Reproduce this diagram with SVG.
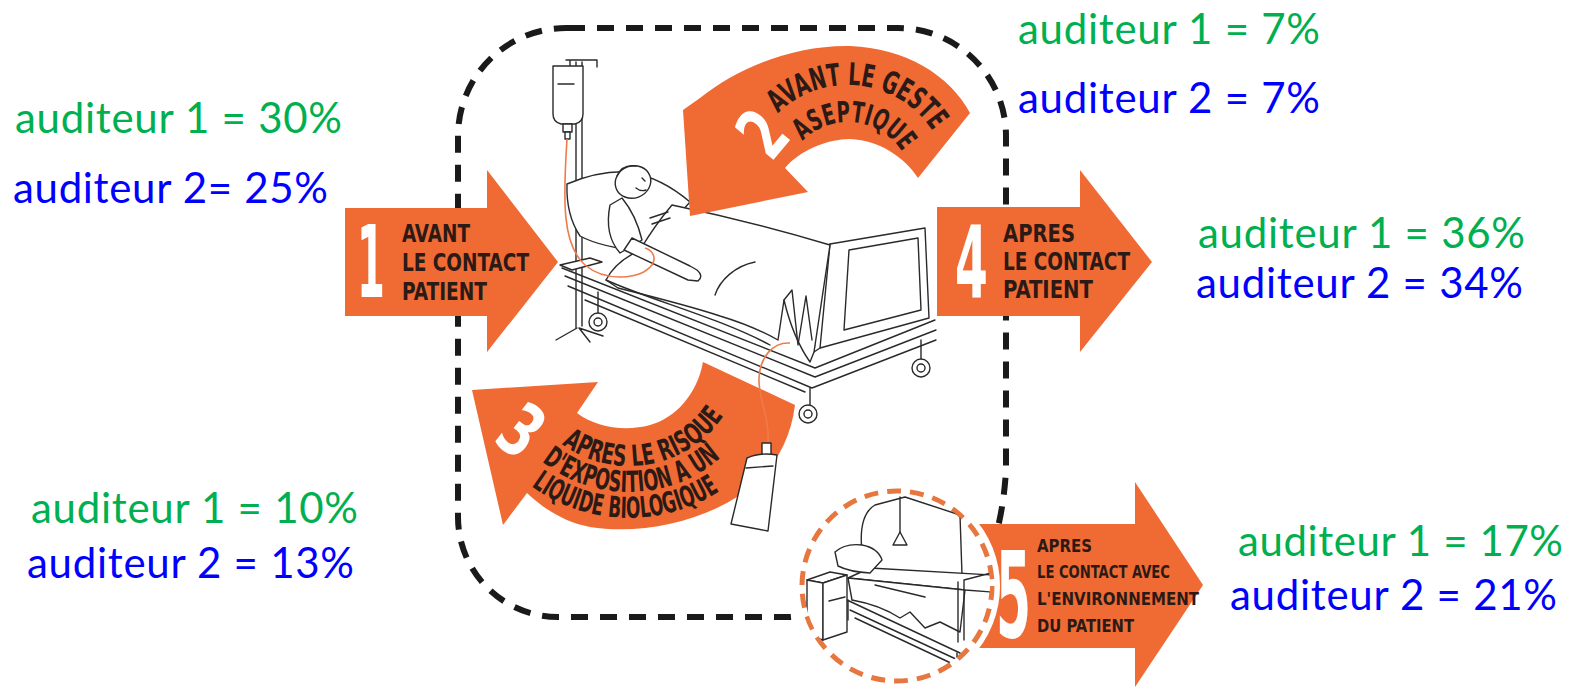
<svg xmlns="http://www.w3.org/2000/svg" width="1579" height="691" viewBox="0 0 1579 691">
<style>
.arr{fill:#F06A33}
.lbl{font-family:"DejaVu Sans Condensed","DejaVu Sans",sans-serif;font-weight:bold;fill:#2b1a15}
.num{font-family:"DejaVu Sans Condensed","DejaVu Sans",sans-serif;font-weight:bold;fill:#ffffff}
.pct{font-family:Lato,"Open Sans",sans-serif;font-size:42px}
.g{fill:#00B050}
.b{fill:#0000FF}
.ln{fill:none;stroke:#2a2a2a;stroke-width:1.4;stroke-linejoin:round;stroke-linecap:round}
.wf{fill:#ffffff;stroke:#2a2a2a;stroke-width:1.4;stroke-linejoin:round}
.tube{fill:none;stroke:#F07A4A;stroke-width:1.6}
</style>
<defs>
<path id="p2a" d="M764.3,129.5 A101,101 0 0 1 942.3,149.8"/>
<path id="p2b" d="M793.3,152.8 A64,64 0 0 1 908.6,165.4"/>
<path id="p3a" d="M530.3,409 A114,114 0 0 0 741.3,371.8"/>
<path id="p3b" d="M498.5,402.6 A140,140 0 0 0 761.5,397.1"/>
<path id="p3c" d="M471.6,404.7 A166,166 0 0 0 783.4,412.8"/>
<clipPath id="cc"><circle cx="897" cy="586" r="93"/></clipPath>
</defs>
<rect width="1579" height="691" fill="#ffffff"/>

<g id="zone-patient">
<path d="M568,28 H898 A108,108 0 0 1 1006,136 V470 Q1004,505 996,535 L985,600 L790,617 H558 A100,100 0 0 1 458,517 V136 A108,108 0 0 1 566,28 Z" fill="none" stroke="#1a1a1a" stroke-width="6" stroke-dasharray="17 12"/>
</g>

<g id="bed-illustration">
<path class="ln" d="M576,62 V328 M582,62 V326" stroke="#888"/>
<path class="ln" d="M566,60 H597 V67 M570,60 V66"/>
<path class="wf" d="M553,66 H583 V114 Q583,122 575,124 H561 Q553,122 553,114 Z"/>
<path class="ln" d="M558,84 H574" stroke-width="2.5"/>
<rect class="wf" x="563" y="124" width="9" height="8"/>
<rect class="wf" x="565" y="132" width="5" height="7"/>
<path class="ln" d="M577,328 L556,340 M579,328 L603,336 M579,328 L590,342"/>
<path class="wf" d="M560,265 L590,258 L602,262 L572,270 Z"/>
<path class="ln" d="M562,268 L815,368 L935,320 M565,276 L815,377 L936,330 M568,286 L812,388 L936,340 M585,300 L805,392"/>
<path class="ln" d="M598,292 V313 M810,388 V405 M921,340 V359"/>
<circle class="wf" cx="598" cy="322" r="9"/><circle class="ln" cx="598" cy="322" r="4"/>
<circle class="wf" cx="808" cy="414" r="9"/><circle class="ln" cx="808" cy="414" r="4"/>
<circle class="wf" cx="921" cy="368" r="9"/><circle class="ln" cx="921" cy="368" r="4"/>
<path class="wf" d="M830,244 L925,228 L929,318 L820,348 Z"/>
<path class="ln" d="M823,248 L830,244 M823,248 L814,352 L820,348"/>
<path class="ln" d="M849,250 L918,238 L921,310 L844,330 Z"/>
<path class="wf" d="M567,184 Q600,170 630,172 Q662,178 690,202 L645,252 Q600,247 580,236 Q566,215 567,184 Z" stroke="#777" stroke-width="1"/>
<path class="wf" d="M672,205 C720,215 780,230 830,245 L814,352 L810,362 C798,345 790,325 784,300 L778,340 C760,330 740,322 720,316 C690,306 650,296 618,288 L606,280 Q615,262 640,250 Q655,225 672,205 Z"/>
<path class="ln" d="M784,300 L792,290 L798,345 L806,296 L812,340 M755,262 C735,266 720,280 715,295 M606,280 C650,300 720,318 770,345"/>
<path class="wf" d="M610,205 Q604,235 620,253 L642,240 Q636,215 622,198 Z"/>
<path class="wf" d="M632,238 L690,266 L697,270 Q704,276 698,281 L688,280 L624,250 Z"/>
<path class="ln" d="M650,218 L668,212 M652,224 L670,218"/>
<ellipse class="wf" cx="633" cy="182" rx="18" ry="16" transform="rotate(-20 633 182)"/>
<path class="ln" d="M617,176 Q622,164 636,166 M642,178 L645,181 M636,188 Q641,192 646,190"/>
<path class="tube" d="M567,139 C563,200 562,245 585,265 C605,282 640,280 652,265 C657,257 652,250 645,248"/>
</g>

<g id="step1">
<path class="arr" d="M345,208 H487 V170 L558,262 L487,352 V316 H345 Z"/>
<text class="num" font-size="99" transform="translate(357,297) scale(0.45,1)">1</text>
<text class="lbl" x="402" y="242" font-size="24" textLength="68" lengthAdjust="spacingAndGlyphs">AVANT</text>
<text class="lbl" x="402" y="271" font-size="24" textLength="127" lengthAdjust="spacingAndGlyphs">LE CONTACT</text>
<text class="lbl" x="402" y="300" font-size="24" textLength="85" lengthAdjust="spacingAndGlyphs">PATIENT</text>
</g>

<g id="step2">
<path class="arr" d="M970,113 C950,75 905,48 850,46 C790,45 735,70 700,98 L683,110 L690,216 L808,192 L785,168 C800,150 828,139 850,139 C880,140 905,158 918,178 Z"/>
<text class="num" font-size="72" text-anchor="middle" transform="translate(762,133) rotate(-50) scale(0.75,1)" x="0" y="26">2</text>
<text class="lbl" font-size="31"><textPath href="#p2a" startOffset="50%" text-anchor="middle" textLength="178" lengthAdjust="spacingAndGlyphs">AVANT LE GESTE</textPath></text>
<text class="lbl" font-size="29"><textPath href="#p2b" startOffset="50%" text-anchor="middle" textLength="115" lengthAdjust="spacingAndGlyphs">ASEPTIQUE</textPath></text>
</g>

<g id="step3">
<path class="arr" d="M703,362 L795,405 C790,445 770,475 740,495 C700,522 640,535 590,527 C565,522 545,510 527,493 L503,525 L472,390 L598,382 L577,413 C595,427 625,432 650,425 C675,418 697,395 703,362 Z"/>
<text class="num" font-size="74" text-anchor="middle" transform="translate(522,430) rotate(38) scale(0.75,1)" x="0" y="27">3</text>
<text class="lbl" font-size="29"><textPath href="#p3a" startOffset="50%" text-anchor="middle" textLength="183" lengthAdjust="spacingAndGlyphs">APRES LE RISQUE</textPath></text>
<text class="lbl" font-size="29"><textPath href="#p3b" startOffset="50%" text-anchor="middle" textLength="194" lengthAdjust="spacingAndGlyphs">D'EXPOSITION A UN</textPath></text>
<text class="lbl" font-size="29"><textPath href="#p3c" startOffset="50%" text-anchor="middle" textLength="200" lengthAdjust="spacingAndGlyphs">LIQUIDE BIOLOGIQUE</textPath></text>
</g>

<g id="drain-bag">
<path class="tube" d="M790,343 C772,342 760,358 759,378 C758,400 770,415 768,445"/>
<rect class="wf" x="762" y="443" width="9" height="12"/>
<path class="wf" d="M747,458 Q760,452 777,455 L768,531 L731,524 Z"/>
<path class="ln" d="M746,468 L773,466" stroke-width="2"/>
</g>

<g id="step4">
<path class="arr" d="M937,207 H1080 V170 L1152,262 L1080,352 V316 H937 Z"/>
<text class="num" font-size="99" transform="translate(955,297) scale(0.53,1)">4</text>
<text class="lbl" x="1003" y="242" font-size="24" textLength="72" lengthAdjust="spacingAndGlyphs">APRES</text>
<text class="lbl" x="1003" y="270" font-size="24" textLength="127" lengthAdjust="spacingAndGlyphs">LE CONTACT</text>
<text class="lbl" x="1003" y="298" font-size="24" textLength="90" lengthAdjust="spacingAndGlyphs">PATIENT</text>
</g>

<g id="step5">
<path class="arr" d="M960,524 H1135 V482 L1203,585 L1135,687 V648 H960 Z"/>
<text class="num" font-size="119" transform="translate(996,637) scale(0.47,1)">5</text>
<text class="lbl" x="1037" y="552" font-size="17" textLength="55" lengthAdjust="spacingAndGlyphs">APRES</text>
<text class="lbl" x="1037" y="578" font-size="17" textLength="133" lengthAdjust="spacingAndGlyphs">LE CONTACT AVEC</text>
<text class="lbl" x="1037" y="605" font-size="17" textLength="162" lengthAdjust="spacingAndGlyphs">L'ENVIRONNEMENT</text>
<text class="lbl" x="1037" y="632" font-size="17" textLength="97" lengthAdjust="spacingAndGlyphs">DU PATIENT</text>
</g>

<g id="environment">
<circle cx="897" cy="586" r="97" fill="#ffffff" stroke="#ffffff" stroke-width="12"/>
<circle cx="897" cy="586" r="95" fill="none" stroke="#E8763F" stroke-width="5" stroke-dasharray="14 9"/>
<g clip-path="url(#cc)">
<path class="ln" d="M862,552 Q858,515 875,505 L905,497 L960,515 L962,575"/>
<path class="ln" d="M900,497 V533"/>
<path class="wf" d="M893,545 L900,532 L907,545 Z"/>
<path class="wf" d="M848,578 L870,568 L992,575 L992,592 L965,590 Z"/>
<path class="wf" d="M835,552 Q845,543 862,545 Q878,548 882,560 L870,573 Q850,572 838,566 Z"/>
<path class="wf" d="M848,578 L965,590 L960,632 L940,622 L925,628 L910,612 L900,618 Q880,605 852,600 Z"/>
<path class="ln" d="M875,585 L925,597"/>
<path class="ln" d="M958,582 V642 M964,580 V640 M964,580 L995,572"/>
<path class="ln" d="M847,600 L960,653 M850,610 L958,660 M855,618 L955,665"/>
<path class="ln" d="M848,600 V620 M957,653 V668"/>
<circle class="ln" cx="954" cy="671" r="4"/>
<path class="wf" d="M807,580 L830,572 L847,575 L823,583 Z"/>
<path class="wf" d="M807,580 L823,583 L823,640 L807,635 Z"/>
<path class="wf" d="M823,583 L847,575 L847,632 L823,640 Z"/>
<path class="ln" d="M829,601 L845,597"/>
</g>
</g>

<g id="rates">
<text class="pct g" x="15" y="133" textLength="327">auditeur 1 = 30%</text>
<text class="pct b" x="13" y="203" textLength="315">auditeur 2= 25%</text>
<text class="pct g" x="1018" y="44" textLength="302">auditeur 1 = 7%</text>
<text class="pct b" x="1018" y="113" textLength="302">auditeur 2 = 7%</text>
<text class="pct g" x="1198" y="248" textLength="327">auditeur 1 = 36%</text>
<text class="pct b" x="1196" y="298" textLength="327">auditeur 2 = 34%</text>
<text class="pct g" x="31" y="523" textLength="327">auditeur 1 = 10%</text>
<text class="pct b" x="27" y="578" textLength="327">auditeur 2 = 13%</text>
<text class="pct g" x="1238" y="556" textLength="325">auditeur 1 = 17%</text>
<text class="pct b" x="1230" y="610" textLength="327">auditeur 2 = 21%</text>
</g>
</svg>
